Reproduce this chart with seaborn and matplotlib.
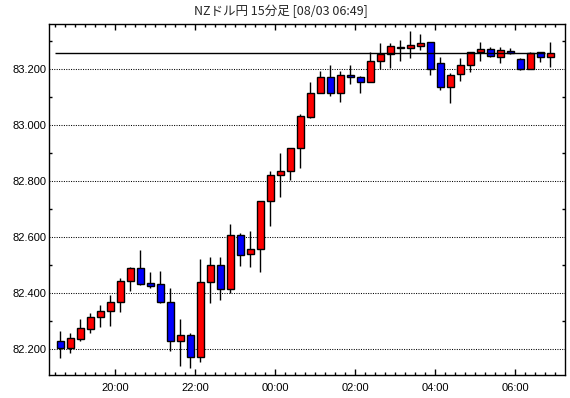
import matplotlib
matplotlib.use("Agg")
import matplotlib.pyplot as plt
import numpy as np
import pandas as pd
import seaborn as sns
from matplotlib.ticker import FixedLocator, MultipleLocator, FuncFormatter

# 15-minute OHLC candles, NZD/JPY, starting at 18:30
opens = [82.229, 82.205, 82.237, 82.273, 82.313, 82.335, 82.367, 82.444, 82.489, 82.436,
         82.432, 82.367, 82.228, 82.249, 82.170, 82.438, 82.500, 82.413, 82.607, 82.539,
         82.556, 82.728, 82.821, 82.835, 82.918, 83.031, 83.114, 83.171, 83.114, 83.179,
         83.171, 83.154, 83.229, 83.255, 83.277, 83.275, 83.284, 83.297, 83.221, 83.138,
         83.182, 83.214, 83.263, 83.272, 83.243, 83.264, 83.236, 83.202, 83.261, 83.243]
highs = [82.265, 82.256, 82.307, 82.328, 82.357, 82.393, 82.453, 82.492, 82.554, 82.475,
         82.479, 82.417, 82.307, 82.256, 82.522, 82.530, 82.529, 82.647, 82.614, 82.622,
         82.728, 82.836, 82.902, 82.918, 83.040, 83.155, 83.195, 83.215, 83.195, 83.215,
         83.176, 83.261, 83.294, 83.294, 83.305, 83.337, 83.326, 83.297, 83.245, 83.188,
         83.241, 83.263, 83.297, 83.279, 83.279, 83.275, 83.239, 83.263, 83.263, 83.297]
lows = [82.169, 82.187, 82.230, 82.258, 82.280, 82.283, 82.333, 82.408, 82.429, 82.419,
        82.365, 82.194, 82.140, 82.131, 82.155, 82.363, 82.375, 82.399, 82.498, 82.494,
        82.476, 82.641, 82.745, 82.804, 82.848, 83.027, 83.114, 83.106, 83.084, 83.146,
        83.114, 83.154, 83.200, 83.206, 83.231, 83.241, 83.270, 83.180, 83.126, 83.078,
        83.158, 83.191, 83.231, 83.245, 83.221, 83.254, 83.197, 83.202, 83.227, 83.209]
closes = [82.205, 82.238, 82.274, 82.313, 82.336, 82.367, 82.444, 82.489, 82.433, 82.426,
          82.367, 82.228, 82.249, 82.170, 82.438, 82.500, 82.413, 82.607, 82.535, 82.556,
          82.728, 82.821, 82.836, 82.918, 83.032, 83.114, 83.171, 83.114, 83.179, 83.171,
          83.154, 83.229, 83.255, 83.282, 83.279, 83.286, 83.295, 83.202, 83.138, 83.179,
          83.214, 83.263, 83.272, 83.248, 83.268, 83.257, 83.202, 83.257, 83.243, 83.257]
last_price = 83.257
tick_labels = ["20:00", "22:00", "00:00", "02:00", "04:00", "06:00"]
title = "NZドル円 15分足 [08/03 06:49]"

df = pd.DataFrame({"open": opens, "high": highs, "low": lows, "close": closes})
df["time"] = pd.date_range("2000-08-02 18:30", periods=len(df), freq="15min")
df["x"] = np.arange(len(df))
df["up"] = df["close"] >= df["open"]
df["bottom"] = df[["open", "close"]].min(axis=1)
df["height"] = (df["close"] - df["open"]).abs().clip(lower=0.002)

sns.set_style("white")
plt.rcParams["font.family"] = ["Liberation Sans", "DejaVu Sans"]

fig = plt.figure(figsize=(5.7, 3.98), dpi=100)
W, H = 570, 398
ax = fig.add_axes([49.3 / W, (H - 375) / H, (565.3 - 49.3) / W, (375 - 24.3) / H])

# dotted grid at the labelled levels
for v in np.arange(82.2, 83.21, 0.2):
    ax.axhline(v, color="black", lw=0.75, ls=(0, (1, 1.3)), zorder=0)

# wicks and bodies
ax.vlines(df["x"], df["low"], df["high"], color="black", lw=1.0, zorder=1)
colors = np.where(df["up"], "#ff0000", "#0000ff")
ax.bar(df["x"], df["height"], bottom=df["bottom"], width=0.66, color=colors,
       edgecolor="black", linewidth=1.0, zorder=2)

# current price line
ax.hlines(last_price, -0.5, len(df) - 1.5, color="black", lw=1.0, zorder=3)

ax.set_xlim(-1.1, 50.5)
ax.set_ylim(82.107, 83.361)

# x ticks: every 15 min minor, every 2 h major (slot boundaries)
major_pos = [5.5 + 8 * k for k in range(len(tick_labels))]
ax.xaxis.set_major_locator(FixedLocator(major_pos))
ax.xaxis.set_minor_locator(FixedLocator(np.arange(-0.5, 50.5, 1.0)))
ax.set_xticklabels(tick_labels)

ax.yaxis.set_major_locator(MultipleLocator(0.2))
ax.yaxis.set_minor_locator(MultipleLocator(0.1))
ax.yaxis.set_major_formatter(FuncFormatter(lambda v, p: f"{v:.3f}"))

ax.tick_params(axis="both", which="both", direction="in", top=True, right=True,
               bottom=True, left=True, color="black", labelsize=8, labelcolor="black")
ax.tick_params(axis="x", which="major", length=4.5, width=1.0, pad=6)
ax.tick_params(axis="x", which="minor", length=2.2, width=1.0)
ax.tick_params(axis="y", which="major", length=0, pad=2)
ax.tick_params(axis="y", which="minor", length=2.2, width=1.0)

for s in ax.spines.values():
    s.set_color("black")
    s.set_linewidth(1.0)

ax.set_xlabel("")
ax.set_ylabel("")

fig.text(281 / W, 1 - 11.5 / H, title, ha="center", va="center", fontsize=9,
         family=["Noto Sans CJK JP", "DejaVu Sans"])

fig.savefig("out.png", dpi=100)
